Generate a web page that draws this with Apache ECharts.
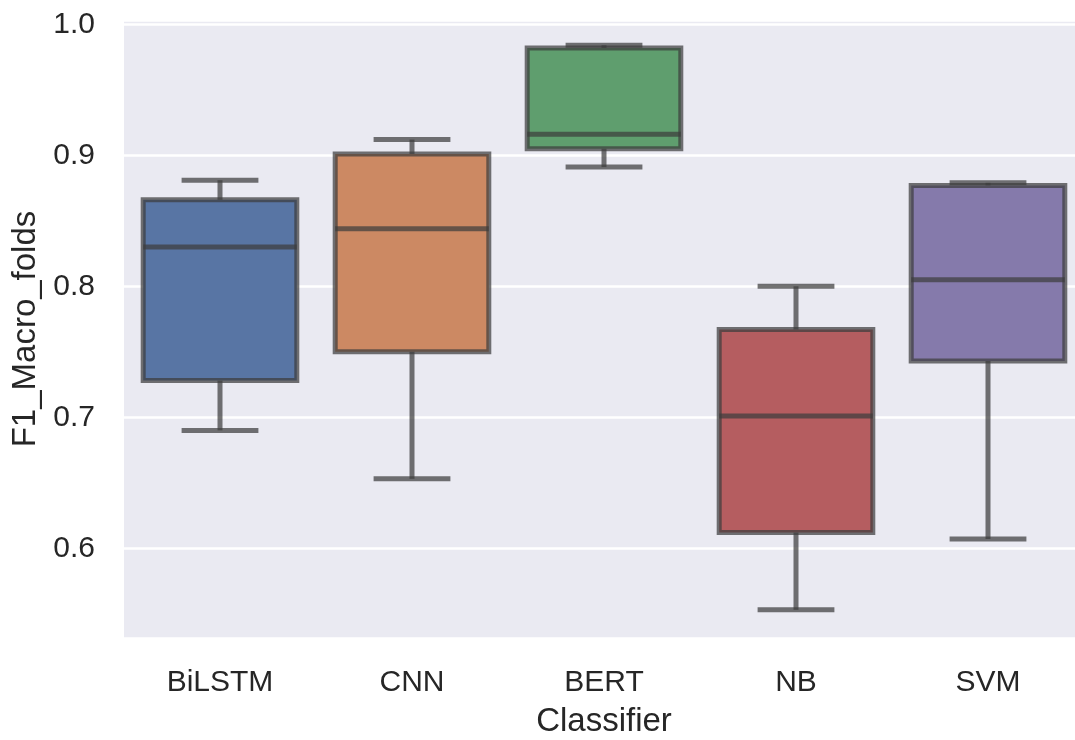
<!DOCTYPE html>
<html>
<head>
<meta charset="utf-8">
<script src="https://cdn.jsdelivr.net/npm/echarts@6/dist/echarts.min.js"></script>
<style>
  html, body { margin: 0; padding: 0; background: #fff; }
  #chart { width: 1075px; height: 740px; }
</style>
</head>
<body>
<div id="chart"></div>
<script>
// classifiers and their fold scores (whisker low, Q1, median, Q3, whisker high)
var classifiers = ['BiLSTM', 'CNN', 'BERT', 'NB', 'SVM'];
var whiskerLow  = [0.690, 0.653, 0.891, 0.553, 0.607];
var q1          = [0.728, 0.750, 0.905, 0.612, 0.743];
var median      = [0.830, 0.844, 0.916, 0.701, 0.805];
var q3          = [0.866, 0.901, 0.982, 0.767, 0.877];
var whiskerHigh = [0.881, 0.912, 0.984, 0.800, 0.879];
var boxColors = ['#5875a4', '#cc8963', '#5f9e6e', '#b55d60', '#857aab'];

var boxData = classifiers.map(function (c, i) {
    return [i, whiskerLow[i], q1[i], median[i], q3[i], whiskerHigh[i]];
});

var chart = echarts.init(document.getElementById('chart'));
var lineColor = 'rgba(61, 61, 61, 0.72)';
var font = '"Liberation Sans", Arial, sans-serif';

var option = {
    animation: false,
    grid: {
        left: 124,
        top: 20,
        width: 960,
        height: 618,
        outerBoundsMode: 'none',
        containLabel: false,
        show: true,
        backgroundColor: '#eaeaf2',
        borderWidth: 0
    },
    xAxis: {
        type: 'category',
        data: classifiers,
        boundaryGap: true,
        name: 'Classifier',
        nameLocation: 'middle',
        nameGap: 67,
        nameTextStyle: { fontSize: 33, color: '#262626', fontFamily: font },
        axisLine: { show: false },
        axisTick: { show: false },
        axisLabel: { fontSize: 30, color: '#262626', fontFamily: font, margin: 30 },
        splitLine: { show: false }
    },
    yAxis: {
        type: 'value',
        min: 0.5315,
        max: 1.0033,
        name: 'F1_Macro_folds',
        nameLocation: 'middle',
        nameGap: 82,
        nameTextStyle: { fontSize: 33, color: '#262626', fontFamily: font },
        axisLine: { show: false },
        axisTick: { show: false },
        axisLabel: {
            fontSize: 30, color: '#262626', fontFamily: font, margin: 29,
            showMinLabel: false, showMaxLabel: false,
            formatter: function (v) { return v.toFixed(1); }
        },
        splitLine: { show: true, lineStyle: { color: '#ffffff', width: 2.5 } }
    },
    series: [
        {
            type: 'custom',
            data: boxData,
            renderItem: function (params, api) {
                var idx = api.value(0);
                var pLow = api.coord([idx, api.value(1)]);
                var pQ1 = api.coord([idx, api.value(2)]);
                var pMed = api.coord([idx, api.value(3)]);
                var pQ3 = api.coord([idx, api.value(4)]);
                var pHigh = api.coord([idx, api.value(5)]);
                var band = api.size([1, 0])[0];
                var bw = band * 0.8;
                var cw = band * 0.4;
                var x = pMed[0];
                var st = { stroke: lineColor, lineWidth: 5 };
                return {
                    type: 'group',
                    children: [
                        {
                            type: 'rect',
                            shape: { x: x - bw / 2, y: pQ3[1], width: bw, height: pQ1[1] - pQ3[1] },
                            style: { fill: boxColors[idx], stroke: lineColor, lineWidth: 5 }
                        },
                        { type: 'line', shape: { x1: x - bw / 2, y1: pMed[1], x2: x + bw / 2, y2: pMed[1] }, style: st },
                        { type: 'line', shape: { x1: x, y1: pQ1[1], x2: x, y2: pLow[1] }, style: st },
                        { type: 'line', shape: { x1: x, y1: pQ3[1], x2: x, y2: pHigh[1] }, style: st },
                        { type: 'line', shape: { x1: x - cw / 2, y1: pLow[1], x2: x + cw / 2, y2: pLow[1] }, style: st },
                        { type: 'line', shape: { x1: x - cw / 2, y1: pHigh[1], x2: x + cw / 2, y2: pHigh[1] }, style: st }
                    ]
                };
            }
        }
    ]
};

chart.setOption(option);
</script>
</body>
</html>
